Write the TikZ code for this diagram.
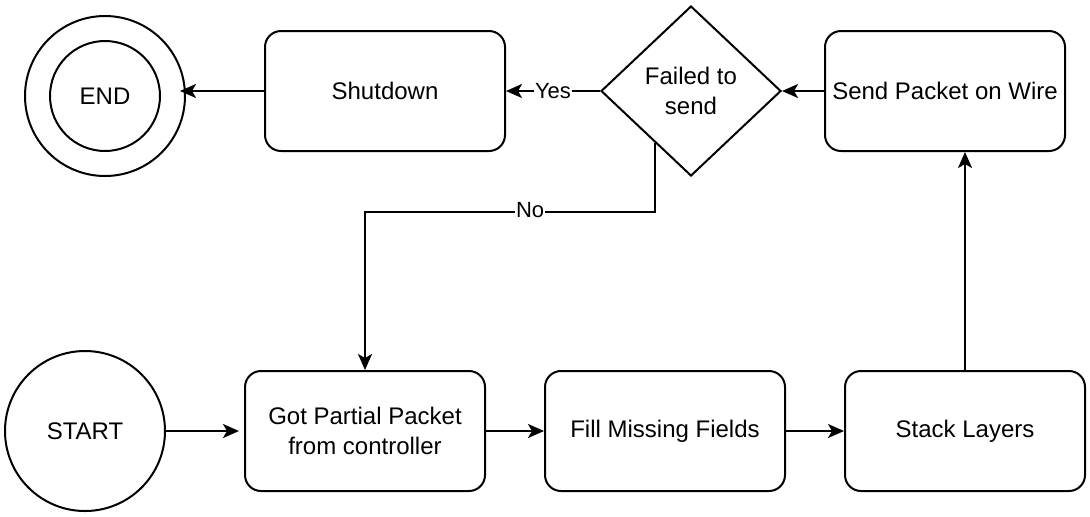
\documentclass[tikz,border=0pt]{standalone}
\usepackage{fontspec}
\setmainfont{Liberation Sans}
\usetikzlibrary{shapes.geometric,arrows.meta,calc}
\begin{document}
\begin{tikzpicture}[x=0.5pt,y=-0.5pt,
  every node/.style={font=\fontsize{12}{15}\selectfont, text=black},
  box/.style={draw, line width=1pt, rounded corners=8pt, minimum width=120pt, minimum height=60pt, inner sep=0pt, align=center},
  circ/.style={draw, circle, line width=1pt, inner sep=0pt},
  decision/.style={draw, diamond, line width=1pt, minimum width=90pt, minimum height=85pt, inner sep=0pt, align=center},
  conn/.style={line width=1pt, -{Stealth[length=8pt,width=7pt,inset=2pt]}},
  lbl/.style={fill=white, inner sep=0.5pt, font=\fontsize{11}{13}\selectfont}
]
\useasboundingbox (0,0) rectangle (1090,516);
% top row
\node[circ, minimum size=80pt] (endo) at (105,96) {};
\node[circ, minimum size=55pt] (endi) at (105,96) {END};
\node[box] (shut) at (385,91) {Shutdown};
\node[decision] (dec) at (691,91) {Failed to\\ send};
\node[box] (send) at (945,91) {Send Packet on Wire};
% bottom row
\node[circ, minimum size=80pt] (start) at (85,431) {START};
\node[box] (got) at (365,431) {Got Partial Packet\\from controller};
\node[box] (fill) at (665,431) {Fill Missing Fields};
\node[box] (stack) at (965,431) {Stack Layers};
% helper coordinates
\coordinate (endtip) at (180,91);
\coordinate (nstart) at ($(dec.south)!0.4!(dec.west)$);
% connectors
\draw[conn] (start.east) -- ([xshift=-2.5pt]got.west);
\draw[conn] (got.east) -- (fill.west);
\draw[conn] (fill.east) -- (stack.west);
\draw[conn] (stack.north) -- (stack.north |- send.south);
\draw[conn] (send.west) -- (dec.east);
\draw[conn] (dec.west) -- node[lbl] {Yes} (shut.east);
\draw[conn] (shut.west) -- (endtip);
\draw[conn] (nstart) -- ++(0,69) -| node[lbl, pos=0.215, yshift=1pt] {No} (got.north);
\end{tikzpicture}
\end{document}
